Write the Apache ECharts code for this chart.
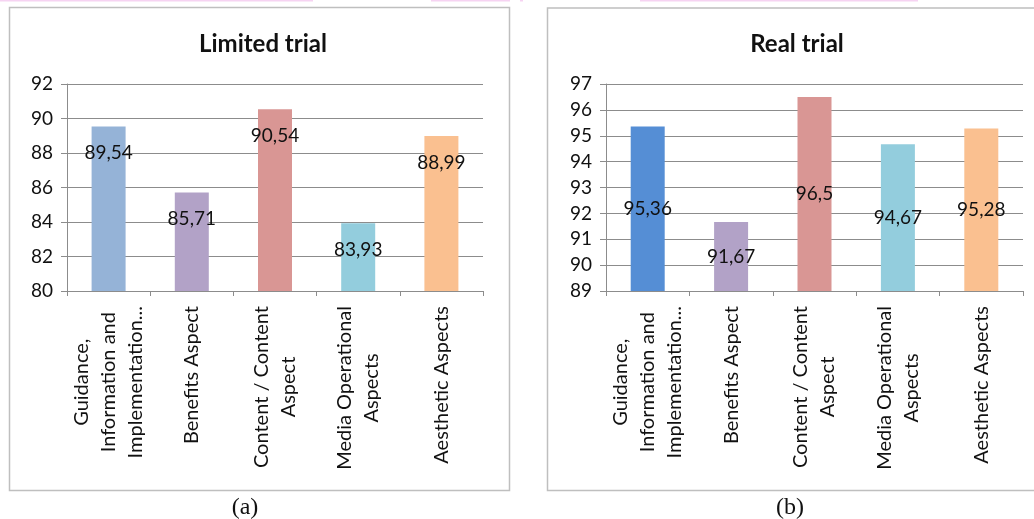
<!DOCTYPE html>
<html>
<head>
<meta charset="utf-8">
<title>Limited trial / Real trial</title>
<script src="https://cdn.jsdelivr.net/npm/echarts@6/dist/echarts.min.js"></script>
<style>
  html, body { margin: 0; padding: 0; background: #ffffff; }
  #chart { width: 1034px; height: 519px; }
</style>
</head>
<body>
<div id="chart"></div>
<script>
// Assessment aspects (x-axis categories, shared by both panels)
const categories = [
  'Guidance,\nInformation and\nImplementation...',
  'Benefits Aspect',
  'Content / Content\nAspect',
  'Media Operational\nAspects',
  'Aesthetic Aspects'
];

// Scores per aspect
const limitedTrial = [89.54, 85.71, 90.54, 83.93, 88.99];
const realTrial = [95.36, 91.67, 96.5, 94.67, 95.28];

// Panel titles and captions
const panelTitles = ['Limited trial', 'Real trial'];
const captions = ['(a)', '(b)'];

// Value axis ranges: [min, max, interval]
const limitedAxis = [80, 92, 2];
const realAxis = [89, 97, 1];

// Bar colours
const limitedColors = ['#95b3d7', '#b2a2c7', '#d99694', '#93cddd', '#fac090'];
const realColors = ['#558ed5', '#b2a2c7', '#d99694', '#93cddd', '#fac090'];

const FONT = 'Lato, "Open Sans", sans-serif';
const GRID_COLOR = '#8c8c8c';

function fmt(v) {
  return String(v).replace('.', ',');
}

function catAxis(gridIndex) {
  return {
    type: 'category',
    gridIndex: gridIndex,
    data: categories,
    axisLine: { lineStyle: { color: GRID_COLOR, width: 1 } },
    axisTick: { show: true, length: 5, lineStyle: { color: GRID_COLOR } },
    axisLabel: {
      interval: 0,
      rotate: 90,
      margin: 15,
      color: '#111',
      formatter: function (v) {
        return v.split('\n').map(function (l) { return '{c|' + l + '}'; }).join('\n');
      },
      rich: {
        c: { align: 'center', fontFamily: FONT, fontSize: 20, lineHeight: 27, color: '#111' }
      }
    }
  };
}

function valAxis(gridIndex, range) {
  return {
    type: 'value',
    gridIndex: gridIndex,
    min: range[0],
    max: range[1],
    interval: range[2],
    axisLine: { show: true, lineStyle: { color: GRID_COLOR, width: 1 } },
    axisTick: { show: true, length: 6, inside: false, lineStyle: { color: GRID_COLOR } },
    splitLine: { show: true, lineStyle: { color: GRID_COLOR, width: 1 } },
    axisLabel: { color: '#111', fontFamily: FONT, fontSize: 19, margin: 14 }
  };
}

function barSeries(idx, values, colors, labelPos, labelDist) {
  return {
    type: 'bar',
    xAxisIndex: idx,
    yAxisIndex: idx,
    barWidth: 34,
    data: values.map(function (v, i) {
      return { value: v, itemStyle: { color: colors[i] } };
    }),
    label: {
      show: true,
      position: labelPos,
      distance: labelDist,
      color: '#111',
      fontFamily: FONT,
      fontSize: 19,
      formatter: function (p) { return fmt(p.value); }
    },
    silent: true,
    animation: false
  };
}

const chart = echarts.init(document.getElementById('chart'), null, { renderer: 'canvas' });

const captionFont = '24px "Liberation Serif", "Times New Roman", serif';

chart.setOption({
  backgroundColor: '#ffffff',
  animation: false,
  title: [
    {
      text: panelTitles[0], left: 258, top: 27, textAlign: 'center',
      textStyle: { fontFamily: FONT, fontWeight: 'bold', fontSize: 24, color: '#111' }
    },
    {
      text: panelTitles[1], left: 792, top: 27, textAlign: 'center',
      textStyle: { fontFamily: FONT, fontWeight: 'bold', fontSize: 24, color: '#111' }
    }
  ],
  grid: [
    { left: 67, top: 84, width: 416, height: 207, containLabel: false },
    { left: 606, top: 84, width: 417, height: 207, containLabel: false }
  ],
  xAxis: [catAxis(0), catAxis(1)],
  yAxis: [valAxis(0, limitedAxis), valAxis(1, realAxis)],
  series: [
    barSeries(0, limitedTrial, limitedColors, 'insideTop', 17),
    barSeries(1, realTrial, realColors, 'inside', 0)
  ],
  graphic: [
    // panel frames
    { type: 'rect', shape: { x: 9.5, y: 7.5, width: 500, height: 483 },
      style: { fill: 'none', stroke: '#bfbfbf', lineWidth: 1.5 }, silent: true },
    { type: 'rect', shape: { x: 547.5, y: 8, width: 500, height: 482.5 },
      style: { fill: 'none', stroke: '#bfbfbf', lineWidth: 1.5 }, silent: true },
    // thin pink strips along the top edge
    { type: 'rect', shape: { x: 0, y: 0, width: 313, height: 1.5 }, style: { fill: '#f6d3f2' }, silent: true },
    { type: 'rect', shape: { x: 431, y: 0, width: 79, height: 1.5 }, style: { fill: '#f6d3f2' }, silent: true },
    { type: 'rect', shape: { x: 520, y: 0, width: 3, height: 1.5 }, style: { fill: '#f6d3f2' }, silent: true },
    { type: 'rect', shape: { x: 640, y: 0, width: 278, height: 1.5 }, style: { fill: '#f6d3f2' }, silent: true },
    // captions
    { type: 'text', x: 245, y: 508,
      style: { text: captions[0], font: captionFont, fill: '#111', textAlign: 'center', textVerticalAlign: 'middle' } },
    { type: 'text', x: 790, y: 508,
      style: { text: captions[1], font: captionFont, fill: '#111', textAlign: 'center', textVerticalAlign: 'middle' } }
  ]
});
</script>
</body>
</html>
